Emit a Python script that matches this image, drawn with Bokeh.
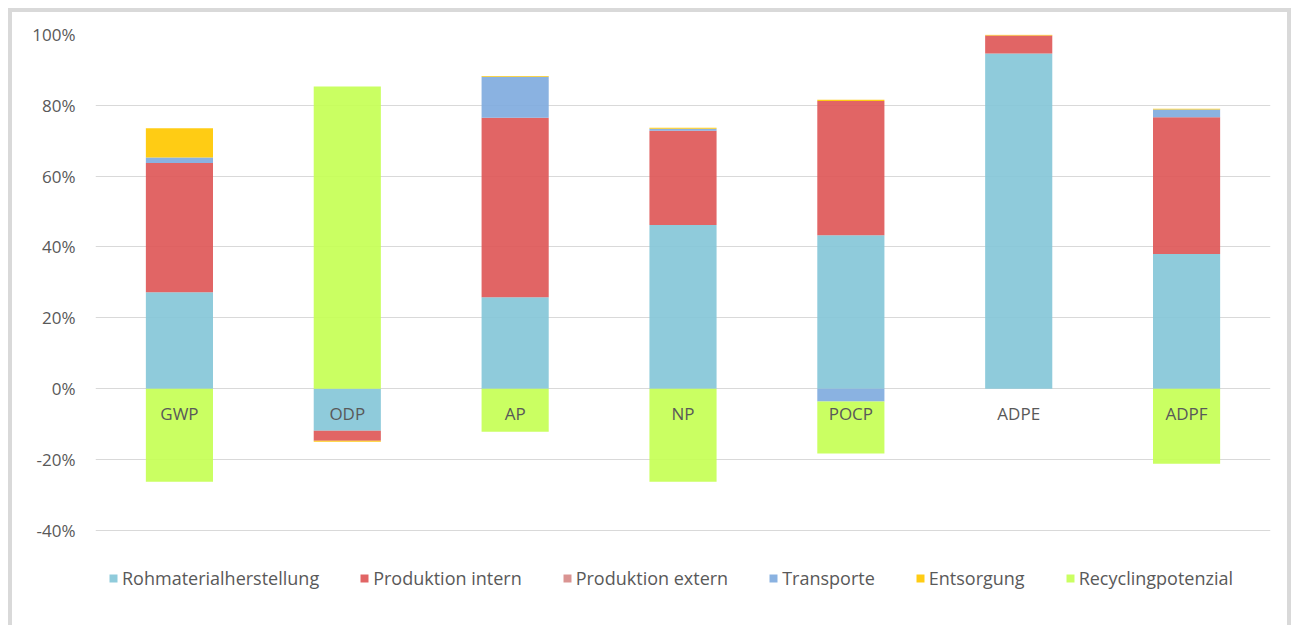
import numpy as np
from bokeh.plotting import figure
from bokeh.models import (ColumnDataSource, FixedTicker, PrintfTickFormatter, Legend,
                          LegendItem)
from bokeh.core.properties import value
from bokeh.embed import file_html
from bokeh.resources import INLINE

categories = ["GWP", "ODP", "AP", "NP", "POCP", "ADPE", "ADPF"]
series_names = ["Rohmaterialherstellung", "Produktion intern", "Produktion extern",
                "Transporte", "Entsorgung", "Recyclingpotenzial"]
rohmaterial = [27.2, -11.9, 25.8, 46.2, 43.3, 94.6, 38.0]
produktion_intern = [36.5, -2.8, 50.7, 26.6, 37.9, 5.1, 38.6]
produktion_extern = [0.0, 0.0, 0.0, 0.0, 0.0, 0.0, 0.0]
transporte = [1.6, 0.0, 11.6, 0.6, -3.6, 0.0, 2.2]
entsorgung = [8.2, -0.3, 0.2, 0.3, 0.4, 0.2, 0.2]
recycling = [-26.3, 85.3, -12.2, -26.3, -14.7, 0.0, -21.2]
y_ticks = [-40, -20, 0, 20, 40, 60, 80, 100]

series = [rohmaterial, produktion_intern, produktion_extern, transporte, entsorgung, recycling]
colors = ["#86C7D8", "#DE5858", "#D78B89", "#80ABDE", "#FFC800", "#C6FF55"]

FONT = "Open Sans"
TXT = "#595959"
FS = "17px"

# frame spans the lower legend strip too; the extra range below -40% holds the legend
p = figure(x_range=categories, y_range=(-70.26, 100), width=1283, height=625,
           output_backend="svg", toolbar_location=None,
           min_border_left=83, min_border_right=25, min_border_top=22, min_border_bottom=0)
p.styles = {"border": "4px solid #d9d9d9", "margin": "8px 0px 0px 8px"}
p.outline_line_color = None
p.xgrid.grid_line_color = None
p.ygrid.grid_line_color = "#d9d9d9"
p.ygrid.grid_line_width = 1
p.xaxis.visible = False
p.yaxis.ticker = FixedTicker(ticks=y_ticks)
p.yaxis.formatter = PrintfTickFormatter(format="%d%%")
p.yaxis.axis_line_color = None
p.yaxis.major_tick_line_color = None
p.yaxis.minor_tick_line_color = None
p.yaxis.major_label_standoff = 14
p.yaxis.major_label_text_font = FONT
p.yaxis.major_label_text_font_size = FS
p.yaxis.major_label_text_color = TXT

pos_base = np.zeros(len(categories))
neg_base = np.zeros(len(categories))
items = []
for name, vals, col in zip(series_names, series, colors):
    v = np.array(vals, dtype=float)
    bottom = np.where(v >= 0, pos_base, neg_base)
    top = bottom + v
    pos_base = np.where(v >= 0, pos_base + v, pos_base)
    neg_base = np.where(v < 0, neg_base + v, neg_base)
    src = ColumnDataSource(dict(x=categories, top=top, bottom=bottom))
    r = p.vbar(x="x", top="top", bottom="bottom", width=0.4, source=src,
               fill_color=col, fill_alpha=0.92, line_color=None)
    items.append(LegendItem(label=name, renderers=[r]))

lab = ColumnDataSource(dict(x=categories, y=[0] * len(categories), t=categories))
p.text(x="x", y="y", text="t", source=lab, y_offset=25, text_align="center",
       text_baseline="middle", text_font=value(FONT), text_font_size=FS, text_color=TXT)

legend = Legend(items=items, orientation="horizontal", location=(13, 47),
                glyph_width=10, glyph_height=10, label_standoff=4, spacing=40,
                padding=5, margin=0, border_line_color=None, background_fill_alpha=0,
                label_text_font=FONT, label_text_font_size="18px", label_text_color=TXT)
p.add_layout(legend)

open("out.html", "w").write(file_html(p, INLINE))
